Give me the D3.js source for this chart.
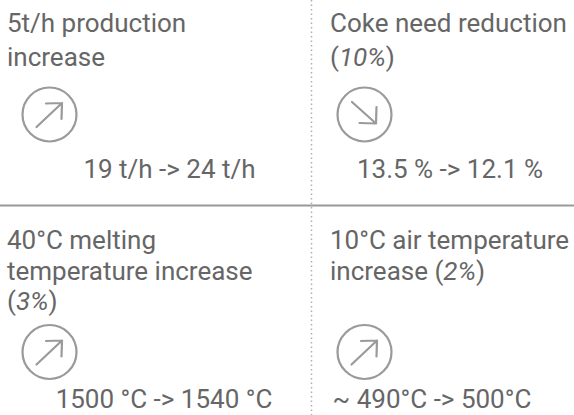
<!DOCTYPE html>
<html>
<head>
<meta charset="utf-8">
<script src="https://cdn.jsdelivr.net/npm/d3@7"></script>
<style>
  html, body { margin: 0; padding: 0; background: #fff; }
  svg { display: block; }
</style>
</head>
<body>
<svg id="chart" width="574" height="415"></svg>
<script>
// ---- data ----
const titles = [
  ["5t/h production", "increase"],
  ["Coke need reduction", "(*10%*)"],
  ["40°C melting", "temperature increase", "(*3%*)"],
  ["10°C air temperature", "increase (*2%*)"]
];
const changes = [
  "19 t/h -> 24 t/h",
  "13.5 % -> 12.1 %",
  "1500 °C -> 1540 °C",
  "~ 490°C -> 500°C"
];
const directions = ["up", "down", "up", "up"];

// ---- layout ----
const W = 574, H = 415;
const svg = d3.select("#chart");
const colX = d3.scaleOrdinal().domain([0, 1]).range([0, 311]);
const rowY = d3.scaleOrdinal().domain([0, 1]).range([0, 205]);
const titleDX = [7, 19];
const titleBase = [32, 44];
const lineH = [34, 30.5];
const circleDX = [49.5, 53.5];
const circleDY = [114.5, 147];
const valueDX = [169.5, 139];
const valueDX2 = [164, 121];
const valueDY = [178, 203];
const R = 27;
const textColor = "#666";
const iconColor = "#9a9a9a";

const cells = titles.map((t, i) => ({
  title: t, value: changes[i], dir: directions[i],
  col: i % 2, row: Math.floor(i / 2)
}));

// separators
svg.append("line")
  .attr("x1", 0).attr("x2", W).attr("y1", 205.5).attr("y2", 205.5)
  .attr("stroke", "#999").attr("stroke-width", 2);
svg.append("line")
  .attr("x1", 311.5).attr("x2", 311.5).attr("y1", 0).attr("y2", H)
  .attr("stroke", "#b0b0b0").attr("stroke-width", 1.5)
  .attr("stroke-dasharray", "1.5,3");

const g = svg.selectAll("g.cell").data(cells).join("g")
  .attr("class", "cell")
  .attr("transform", d => `translate(${colX(d.col)},${rowY(d.row)})`);

// titles
g.each(function(d) {
  const sel = d3.select(this);
  const txt = sel.append("text")
    .attr("font-family", "Roboto, sans-serif")
    .attr("font-size", 26)
    .attr("fill", textColor);
  d.title.forEach((line, li) => {
    const parts = line.split("*");
    parts.forEach((p, pi) => {
      if (!p) return;
      const ts = txt.append("tspan").text(p);
      if (pi === 0 || (pi === parts.findIndex(q => q) )) { }
      if (pi % 2 === 1) ts.attr("font-style", "italic");
    });
    // position first tspan of each line
  });
  // rebuild with explicit line positioning
  txt.selectAll("tspan").remove();
  d.title.forEach((line, li) => {
    const parts = line.split("*");
    let first = true;
    parts.forEach((p, pi) => {
      if (!p) return;
      const ts = txt.append("tspan").text(p);
      if (first) {
        ts.attr("x", titleDX[d.col]).attr("y", titleBase[d.row] + li * lineH[d.row]);
        first = false;
      }
      if (pi % 2 === 1) ts.attr("font-style", "italic");
    });
  });
});

// icons
const icon = g.append("g")
  .attr("transform", d => `translate(${d.row === 0 ? [49.5, 53.5][d.col] : [49.5, 53.5][d.col]},${d.row === 0 ? 114.5 : 147})`);
icon.append("circle")
  .attr("r", R)
  .attr("fill", "none")
  .attr("stroke", iconColor)
  .attr("stroke-width", 2.2);
icon.append("path")
  .attr("fill", "none")
  .attr("stroke", iconColor)
  .attr("stroke-width", 2.2)
  .attr("stroke-linecap", "round")
  .attr("stroke-linejoin", "round")
  .attr("d", d => d.dir === "up"
    ? "M-13,12.5 L12.5,-11.5 M-3.5,-11 L12.5,-11.5 L12,4.5"
    : "M-12.5,-12.5 L11.5,9 M-5,8.5 L11.5,9 L12,-7.5");

// values
g.append("text")
  .attr("font-family", "Roboto, sans-serif")
  .attr("font-size", 26)
  .attr("fill", textColor)
  .attr("text-anchor", "middle")
  .attr("x", d => d.row === 0 ? valueDX[d.col] : valueDX2[d.col])
  .attr("y", d => valueDY[d.row])
  .text(d => d.value);
</script>
</body>
</html>
